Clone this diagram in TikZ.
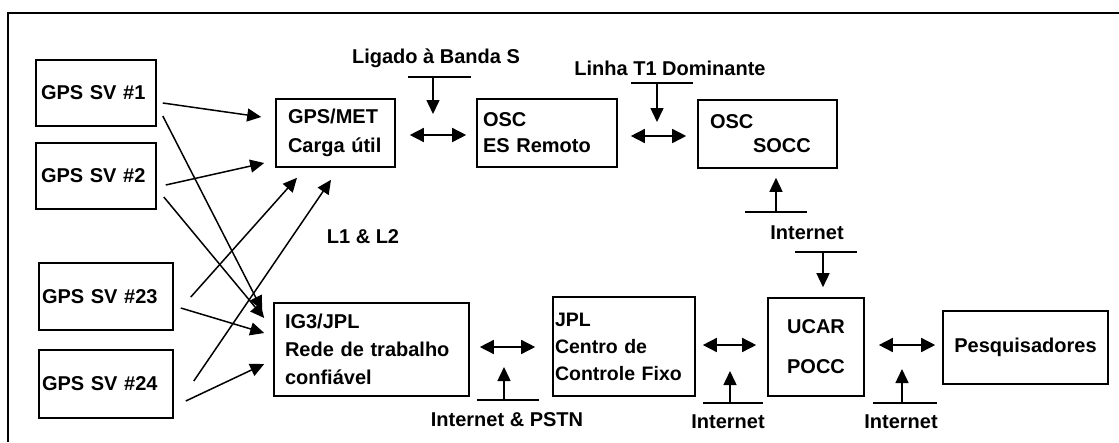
\documentclass[tikz,border=0pt]{standalone}
\usepackage{fontspec}
\setmainfont{Liberation Sans}
\usetikzlibrary{arrows.meta}
\begin{document}
\begin{tikzpicture}[x=1pt,y=-1pt,
  box/.style={draw, line width=1.6pt, inner ysep=0pt, font=\bfseries\fontsize{20}{27}\selectfont},
  lbl/.style={font=\bfseries\fontsize{20}{24}\selectfont, inner sep=0pt},
  arr/.style={line width=1.5pt, -{Triangle[length=14pt,width=13pt]}},
  darr/.style={line width=1.5pt, {Triangle[length=14pt,width=14pt]}-{Triangle[length=14pt,width=14pt]}},
  barline/.style={line width=1.5pt}]
\useasboundingbox (0,0) rectangle (1119,442);
% frame
\coordinate (ftl) at (8,13); \coordinate (ftr) at (1119,13); \coordinate (fbl) at (8,442);
\draw[line width=2pt] (ftr) -- (ftl) -- (fbl);
% boxes
\node[box, minimum width=120pt, minimum height=66pt, text width=110pt, inner xsep=5pt, align=left] (sv1) at (96,93) {GPS SV \#1};
\node[box, minimum width=120pt, minimum height=66pt, text width=110pt, inner xsep=5pt, align=left] (sv2) at (96,176) {GPS SV \#2};
\node[box, minimum width=134pt, minimum height=67pt, text width=128pt, inner xsep=3pt, align=left] (sv23) at (106,296.5) {GPS SV \#23};
\node[box, minimum width=134pt, minimum height=68pt, text width=128pt, inner xsep=3pt, align=left] (sv24) at (106,384) {GPS SV \#24};
\node[box, minimum width=119pt, minimum height=68pt, text width=95pt, inner xsep=12pt, align=left, font=\bfseries\fontsize{20}{29}\selectfont] (gpsmet) at (335.5,133) {GPS/MET\\Carga útil};
\node[box, minimum width=140pt, minimum height=68pt, text width=128pt, inner xsep=6pt, align=left, font=\bfseries\fontsize{20}{26}\selectfont] (oscr) at (547,133) {OSC\\ES Remoto};
\node[box, minimum width=139pt, minimum height=68pt, text width=115pt, inner xsep=12pt, align=left, font=\bfseries\fontsize{20}{24}\selectfont] (socc) at (767.5,134) {OSC\\\hspace*{43pt}SOCC};
\node[box, minimum width=195pt, minimum height=93pt, text width=173pt, inner xsep=11pt, align=left, font=\bfseries\fontsize{20}{28}\selectfont] (ig3) at (371.5,349.5) {IG3/JPL\\Rede de trabalho\\confiável};
\node[box, minimum width=142pt, minimum height=99pt, text width=138pt, inner xsep=2pt, align=left, font=\bfseries\fontsize{19.5}{27}\selectfont] (jpl) at (624,346.5) {JPL\\Centro de\\Controle Fixo};
\node[box, minimum width=96pt, minimum height=98pt, align=center, font=\bfseries\fontsize{20}{40}\selectfont] (ucar) at (816,347) {UCAR\\POCC};
\node[box, minimum width=165pt, minimum height=73pt, align=center] (pesq) at (1025.5,347.5) {Pesquisadores};
% labels
\node[lbl] (lig) at (436,58) {Ligado à Banda S};
\node[lbl] (lin) at (670,68) {Linha T1 Dominante};
\node[lbl] (int1) at (807,233) {Internet};
\node[lbl] (l12) at (363,237) {L1 \& L2};
\node[lbl] (ipstn) at (507,420) {Internet \& PSTN};
\node[lbl] (int2) at (728,422) {Internet};
\node[lbl] (int3) at (901,422) {Internet};
% satellite arrows
\draw[arr] ([shift={(6,10)}]sv1.east) -- ([shift={(-14,-16)}]gpsmet.west);
\draw[arr] ([shift={(9,9)}]sv2.east) -- ([shift={(-11,30)}]gpsmet.west);
\draw[arr] ([shift={(6,23)}]sv1.east) -- ([shift={(-11,-39.5)}]ig3.west);
\draw[arr] ([shift={(7,21)}]sv2.east) -- ([shift={(-9,-31.5)}]ig3.west);
\draw[arr] ([shift={(7,11.5)}]sv23.east) -- ([shift={(-9,-16.5)}]ig3.west);
\draw[arr] ([shift={(12,17)}]sv24.east) -- ([shift={(-9,14.5)}]ig3.west);
\draw[arr] ([shift={(17,0.5)}]sv23.east) -- ([shift={(-38.5,10)}]gpsmet.south);
\draw[arr] ([shift={(20,-3)}]sv24.east) -- ([shift={(-4.5,12)}]gpsmet.south);
% double arrows
\draw[darr] ([shift={(14,2)}]gpsmet.east) -- ([shift={(-10,2)}]oscr.west);
\draw[darr] ([shift={(13,3)}]oscr.east) -- ([shift={(-11,2)}]socc.west);
\draw[darr] ([shift={(10,-2.5)}]ig3.east) -- ([shift={(-17,0.5)}]jpl.west);
\draw[darr] ([shift={(7,-1.5)}]jpl.east) -- ([shift={(-11,-2)}]ucar.west);
\draw[darr] ([shift={(14,-2)}]ucar.east) -- ([shift={(-7,-2.5)}]pesq.west);
% link bars and their arrows
\coordinate (b1l) at (408,77); \coordinate (b1r) at (471,77);
\coordinate (b1a) at (433,77); \coordinate (b1t) at (433,114);
\draw[barline] (b1l) -- (b1r); \draw[arr] (b1a) -- (b1t);
\coordinate (b2l) at (631,83); \coordinate (b2r) at (693,83);
\coordinate (b2a) at (657,83); \coordinate (b2t) at (657,122);
\draw[barline] (b2l) -- (b2r); \draw[arr] (b2a) -- (b2t);
\coordinate (b3l) at (745,212); \coordinate (b3r) at (807,212);
\coordinate (b3a) at (776,212);
\draw[barline] (b3l) -- (b3r); \draw[arr] (b3a) -- ([shift={(8.5,9)}]socc.south);
\coordinate (b4l) at (795,252); \coordinate (b4r) at (857,252);
\coordinate (b4a) at (823,252);
\draw[barline] (b4l) -- (b4r); \draw[arr] (b4a) -- ([shift={(7,-10)}]ucar.north);
\coordinate (b5l) at (477,400); \coordinate (b5r) at (539,400);
\coordinate (b5a) at (504,400); \coordinate (b5t) at (504,367);
\draw[barline] (b5l) -- (b5r); \draw[arr] (b5a) -- (b5t);
\coordinate (b6l) at (703,403); \coordinate (b6r) at (763,403);
\coordinate (b6a) at (730,403); \coordinate (b6t) at (730,371);
\draw[barline] (b6l) -- (b6r); \draw[arr] (b6a) -- (b6t);
\coordinate (b7l) at (873,403); \coordinate (b7r) at (937,403);
\coordinate (b7a) at (902,403); \coordinate (b7t) at (902,369);
\draw[barline] (b7l) -- (b7r); \draw[arr] (b7a) -- (b7t);
\end{tikzpicture}
\end{document}
